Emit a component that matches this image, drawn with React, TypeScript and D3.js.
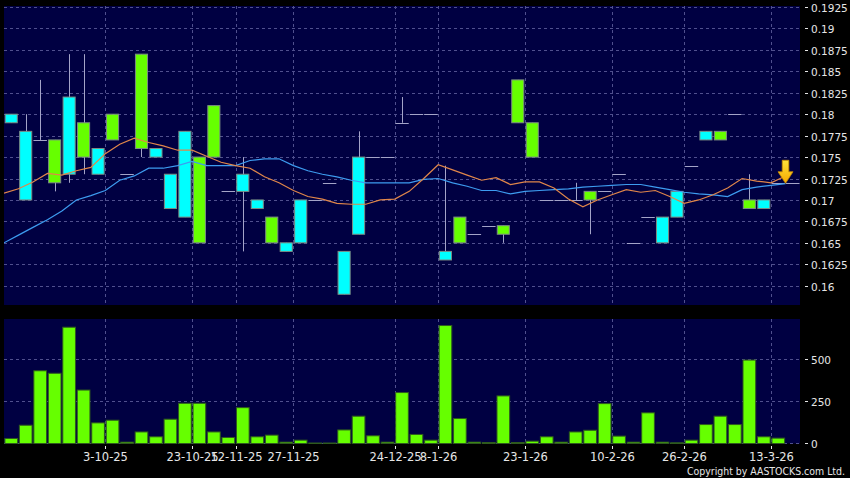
import { useEffect, useRef } from 'react'
import * as d3 from 'd3'

// one entry per trading slot (last slot = today's flat print, no volume)
const opens = [
  0.179, 0.170, 0.177, 0.177, 0.173, 0.179, 0.173, 0.180, 0.173, 0.187,
  0.175, 0.169, 0.168, 0.175, 0.181, 0.171, 0.171, 0.169, 0.168, 0.164,
  0.165, 0.170, 0.172, 0.159, 0.166, 0.175, 0.175, 0.179, 0.180, 0.180,
  0.163, 0.168, 0.166, 0.167, 0.167, 0.184, 0.179, 0.170, 0.170, 0.170,
  0.171, 0.171, 0.173, 0.165, 0.168, 0.165, 0.168, 0.174, 0.177, 0.178,
  0.180, 0.170, 0.169, 0.172, 0.172,
]
const highs = [
  0.180, 0.180, 0.184, 0.177, 0.187, 0.187, 0.176, 0.180, 0.173, 0.187,
  0.176, 0.173, 0.178, 0.175, 0.181, 0.171, 0.175, 0.170, 0.168, 0.165,
  0.170, 0.170, 0.172, 0.164, 0.178, 0.175, 0.175, 0.182, 0.180, 0.180,
  0.174, 0.168, 0.166, 0.167, 0.167, 0.184, 0.179, 0.170, 0.170, 0.172,
  0.171, 0.171, 0.173, 0.165, 0.168, 0.168, 0.171, 0.174, 0.178, 0.178,
  0.180, 0.173, 0.170, 0.172, 0.172,
]
const lows = [
  0.179, 0.170, 0.177, 0.171, 0.172, 0.173, 0.173, 0.177, 0.173, 0.175,
  0.175, 0.169, 0.168, 0.165, 0.175, 0.171, 0.164, 0.169, 0.165, 0.164,
  0.165, 0.170, 0.172, 0.159, 0.166, 0.175, 0.175, 0.179, 0.180, 0.180,
  0.163, 0.165, 0.166, 0.167, 0.165, 0.179, 0.175, 0.170, 0.170, 0.170,
  0.166, 0.171, 0.173, 0.165, 0.168, 0.165, 0.168, 0.174, 0.177, 0.177,
  0.180, 0.169, 0.169, 0.172, 0.172,
]
const closes = [
  0.180, 0.178, 0.177, 0.172, 0.182, 0.175, 0.176, 0.177, 0.173, 0.176,
  0.176, 0.173, 0.178, 0.165, 0.175, 0.171, 0.173, 0.170, 0.165, 0.165,
  0.170, 0.170, 0.172, 0.164, 0.175, 0.175, 0.175, 0.179, 0.180, 0.180,
  0.164, 0.165, 0.166, 0.167, 0.166, 0.179, 0.175, 0.170, 0.170, 0.170,
  0.170, 0.171, 0.173, 0.165, 0.168, 0.168, 0.171, 0.174, 0.178, 0.177,
  0.180, 0.169, 0.170, 0.172, 0.172,
]
const volumes = [
  30, 109, 434, 419, 694, 319, 123, 139, 8, 69,
  40, 145, 240, 240, 69, 36, 214, 40, 50, 8,
  20, 3, 3, 81, 163, 46, 8, 304, 54, 20,
  704, 149, 8, 6, 284, 6, 14, 40, 8, 69,
  79, 238, 44, 8, 183, 8, 4, 20, 113, 163,
  113, 498, 40, 32, 0,
]
// moving averages, one value per slot boundary
const maShort = [
  0.1708, 0.1713, 0.1721, 0.1731, 0.1729, 0.1734, 0.1738, 0.1754, 0.1765, 0.1772,
  0.1767, 0.1763, 0.1758, 0.1758, 0.1751, 0.1744, 0.1740, 0.1737, 0.1727, 0.1720,
  0.1711, 0.1704, 0.1701, 0.1696, 0.1695, 0.1695, 0.1700, 0.1701, 0.1710, 0.1725,
  0.1741, 0.1735, 0.1729, 0.1723, 0.1726, 0.1718, 0.1721, 0.1721, 0.1714, 0.1701,
  0.1692, 0.1700, 0.1706, 0.1712, 0.1709, 0.1711, 0.1704, 0.1696, 0.1700, 0.1706,
  0.1714, 0.1725, 0.1722, 0.1720, 0.1728,
]
const maLong = [
  0.1650, 0.1659, 0.1668, 0.1677, 0.1687, 0.1700, 0.1705, 0.1711, 0.1723, 0.1728,
  0.1737, 0.1737, 0.1740, 0.1745, 0.1740, 0.1740, 0.1740, 0.1746, 0.1748, 0.1748,
  0.1740, 0.1734, 0.1730, 0.1727, 0.1723, 0.1720, 0.1720, 0.1720, 0.1720, 0.1724,
  0.1725, 0.1720, 0.1716, 0.1711, 0.1711, 0.1707, 0.1710, 0.1711, 0.1712, 0.1713,
  0.1715, 0.1716, 0.1717, 0.1718, 0.1718, 0.1715, 0.1712, 0.1709, 0.1707, 0.1706,
  0.1704, 0.1712, 0.1715, 0.1717, 0.1719,
]
const tickSlots = [7, 13, 16, 20, 27, 30, 36, 42, 47, 53]
const tickLabels = ['3-10-25', '23-10-25', '12-11-25', '27-11-25', '24-12-25', '8-1-26', '23-1-26', '10-2-26', '26-2-26', '13-3-26']
const priceTicks = [0.16, 0.1625, 0.165, 0.1675, 0.17, 0.1725, 0.175, 0.1775, 0.18, 0.1825, 0.185, 0.1875, 0.19, 0.1925]
const volumeTicks = [0, 250, 500]

const W = 850
const H = 478
const UP = '#00ffff'
const DOWN = '#66ff00'
const WICK = '#a4a4c8'
const GRID = '#50508e'
const TEXT = '#e6e6e6'

export default function App() {
  const svgRef = useRef<SVGSVGElement>(null)

  useEffect(() => {
    if (!svgRef.current) return
    const svg = d3.select(svgRef.current)
    svg.selectAll('*').remove()

    const left = 4, right = 800
    const pTop = 6, pBot = 305
    const vTop = 319, vBot = 443.5

    const x = d3.scaleBand<number>().domain(d3.range(closes.length)).range([left, right])
    const step = x.step()
    const y = d3.scaleLinear().domain([0.16, 0.1925]).range([285.7, 7])
    const yv = d3.scaleLinear().domain([0, 743]).range([vBot, vTop])

    svg.append('rect').attr('width', W).attr('height', H).attr('fill', '#000')

    const defs = svg.append('defs')
    defs.append('clipPath').attr('id', 'pclip').append('rect')
      .attr('x', left).attr('y', pTop).attr('width', right - left).attr('height', pBot - pTop)
    const grad = defs.append('linearGradient').attr('id', 'arrowGrad')
      .attr('x1', 0).attr('y1', 0).attr('x2', 0).attr('y2', 1)
    grad.append('stop').attr('offset', '0%').attr('stop-color', '#ffe23a')
    grad.append('stop').attr('offset', '100%').attr('stop-color', '#f5a800')

    // panels
    svg.append('rect').attr('x', left).attr('y', pTop).attr('width', right - left).attr('height', pBot - pTop)
      .attr('fill', '#000042')
    svg.append('rect').attr('x', left).attr('y', vTop).attr('width', right - left).attr('height', vBot - vTop)
      .attr('fill', '#000042')

    // grid
    const grid = svg.append('g').attr('stroke', GRID).attr('stroke-dasharray', '3,3').attr('stroke-width', 1)
    priceTicks.forEach(t => {
      const yy = Math.round(y(t)) + 0.5
      grid.append('line').attr('x1', left).attr('x2', right).attr('y1', yy).attr('y2', yy)
    })
    volumeTicks.forEach(t => {
      const yy = Math.round(yv(t)) - 0.5
      grid.append('line').attr('x1', left).attr('x2', right).attr('y1', yy).attr('y2', yy)
    })
    tickSlots.forEach(i => {
      const xx = Math.round(x(i)!) + 0.5
      grid.append('line').attr('x1', xx).attr('x2', xx).attr('y1', pTop).attr('y2', pBot)
      grid.append('line').attr('x1', xx).attr('x2', xx).attr('y1', vTop).attr('y2', vBot)
    })

    // candles
    const pg = svg.append('g').attr('clip-path', 'url(#pclip)')
    closes.forEach((c, i) => {
      const o = opens[i]
      const cx = Math.round(x(i)! + step / 2) + 0.5
      pg.append('line').attr('x1', cx).attr('x2', cx).attr('y1', y(highs[i])).attr('y2', y(lows[i]))
        .attr('stroke', WICK).attr('stroke-width', 1)
      if (o === c) {
        const yy = Math.round(y(c)) + 0.5
        pg.append('line').attr('x1', x(i)! + 0.5).attr('x2', x(i)! + step - 0.5).attr('y1', yy).attr('y2', yy)
          .attr('stroke', WICK).attr('stroke-width', 1)
      } else {
        const top = y(Math.max(o, c)), bot = y(Math.min(o, c))
        pg.append('rect').attr('x', x(i)! + 1.2).attr('y', top).attr('width', step - 2.4).attr('height', bot - top)
          .attr('fill', c > o ? UP : DOWN).attr('stroke', '#7c8c84').attr('stroke-width', 1)
      }
    })

    // moving averages
    const maLine = d3.line<number>().x((_, j) => x(j)!).y(d => y(d))
    pg.append('path').datum(maLong).attr('d', maLine).attr('fill', 'none')
      .attr('stroke', '#3d9cf0').attr('stroke-width', 1.2)
    pg.append('path').datum(maShort).attr('d', maLine).attr('fill', 'none')
      .attr('stroke', '#e0864a').attr('stroke-width', 1.2)

    // last price arrow
    const last = closes.length - 1
    const ax = x(last)!, ay = y(closes[last]) + 0.5
    svg.append('path')
      .attr('d', `M${ax},${ay} L${ax - 7.5},${ay - 11.5} L${ax - 3.3},${ay - 11.5} L${ax - 3.3},${ay - 23} L${ax + 3.3},${ay - 23} L${ax + 3.3},${ay - 11.5} L${ax + 7.5},${ay - 11.5} Z`)
      .attr('fill', 'url(#arrowGrad)').attr('stroke', '#c88a00').attr('stroke-width', 0.8)

    // volume bars
    svg.append('g').selectAll('rect').data(volumes.map((v, i) => ({ v, i })).filter(d => d.v > 0)).join('rect')
      .attr('x', d => x(d.i)! + 0.9).attr('y', d => yv(d.v)).attr('width', step - 1.8)
      .attr('height', d => vBot - yv(d.v))
      .attr('fill', DOWN).attr('stroke', '#2f5a1e').attr('stroke-width', 1)

    // right axes
    const axisG = svg.append('g').attr('font-family', '"DejaVu Sans", sans-serif').attr('fill', TEXT)
    priceTicks.forEach(t => {
      const yy = Math.round(y(t)) + 0.5
      axisG.append('line').attr('x1', 805).attr('x2', 808).attr('y1', yy).attr('y2', yy).attr('stroke', TEXT)
      axisG.append('text').attr('x', 811).attr('y', yy + 4).attr('font-size', '10.5px').text(String(t))
    })
    volumeTicks.forEach(t => {
      const yy = Math.round(yv(t)) - 0.5
      axisG.append('line').attr('x1', 805).attr('x2', 808).attr('y1', yy).attr('y2', yy).attr('stroke', TEXT)
      axisG.append('text').attr('x', 811).attr('y', yy + 4).attr('font-size', '10.5px').text(String(t))
    })

    // date axis
    tickSlots.forEach((i, k) => {
      const xx = Math.round(x(i)!) + 0.5
      axisG.append('line').attr('x1', xx).attr('x2', xx).attr('y1', 446).attr('y2', 449).attr('stroke', TEXT)
      axisG.append('text').attr('x', xx).attr('y', 461).attr('font-size', '11.5px')
        .attr('text-anchor', 'middle').text(tickLabels[k])
    })

    svg.append('text').attr('x', 687).attr('y', 475)
      .attr('font-family', '"DejaVu Sans", sans-serif')
      .attr('font-size', '10.5px').attr('fill', TEXT)
      .attr('textLength', 158).attr('lengthAdjust', 'spacingAndGlyphs')
      .text('Copyright by AASTOCKS.com Ltd.')
  }, [])

  return (
    <div style={{ position: 'absolute', left: 0, top: 0, width: W, height: H, background: '#000' }}>
      <svg ref={svgRef} width={W} height={H} style={{ display: 'block' }} />
    </div>
  )
}
